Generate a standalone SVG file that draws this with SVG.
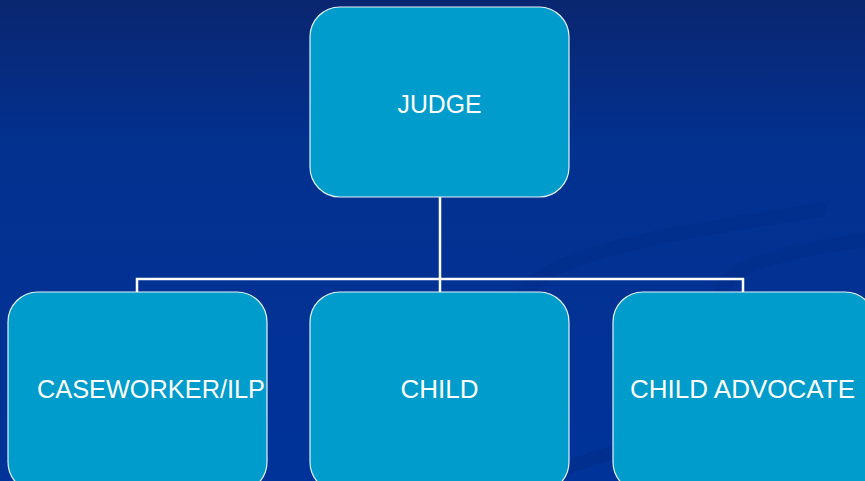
<svg xmlns="http://www.w3.org/2000/svg" width="865" height="481" viewBox="0 0 865 481">
<defs>
<linearGradient id="bg" x1="0" y1="0" x2="0" y2="1">
<stop offset="0" stop-color="#0A2670"/>
<stop offset="0.3" stop-color="#02318F"/>
<stop offset="1" stop-color="#003399"/>
</linearGradient>
<style>
.box{fill:#009CCC;stroke:#E6F2FA;stroke-width:1.2}
.lbl{font-family:"Liberation Sans","DejaVu Sans",sans-serif;font-size:26px;fill:#FFFFFF;text-anchor:middle}
.conn{fill:none;stroke:#FFFFFF;stroke-width:2.5}
.swoosh{fill:none;stroke:#002E8C;stroke-width:14;stroke-linecap:round;opacity:0.8}
</style>
</defs>
<rect width="865" height="481" fill="url(#bg)"/>
<path class="swoosh" d="M520 300 C 540 260, 620 240, 820 210"/>
<path class="swoosh" d="M722 290 C 730 265, 790 250, 865 240"/>
<path class="swoosh" d="M560 470 C 640 440, 760 420, 865 400"/>
<g id="connectors">
<path class="conn" d="M440 197 V279 M137 292 V279 H743 V292 M440 279 V292"/>
</g>
<g id="judge">
<rect class="box" x="310" y="7" width="259" height="190" rx="30"/>
<text class="lbl" x="439.5" y="113" textLength="84" lengthAdjust="spacingAndGlyphs">JUDGE</text>
</g>
<g id="caseworker">
<rect class="box" x="8" y="292" width="259" height="200" rx="30"/>
<text class="lbl" x="151" y="398" textLength="228" lengthAdjust="spacingAndGlyphs">CASEWORKER/ILP</text>
</g>
<g id="child">
<rect class="box" x="310" y="292" width="259" height="200" rx="30"/>
<text class="lbl" x="439.5" y="398" textLength="78" lengthAdjust="spacingAndGlyphs">CHILD</text>
</g>
<g id="advocate">
<rect class="box" x="613" y="292" width="262" height="200" rx="30"/>
<text class="lbl" x="742.5" y="398" textLength="225" lengthAdjust="spacingAndGlyphs">CHILD ADVOCATE</text>
</g>
</svg>
